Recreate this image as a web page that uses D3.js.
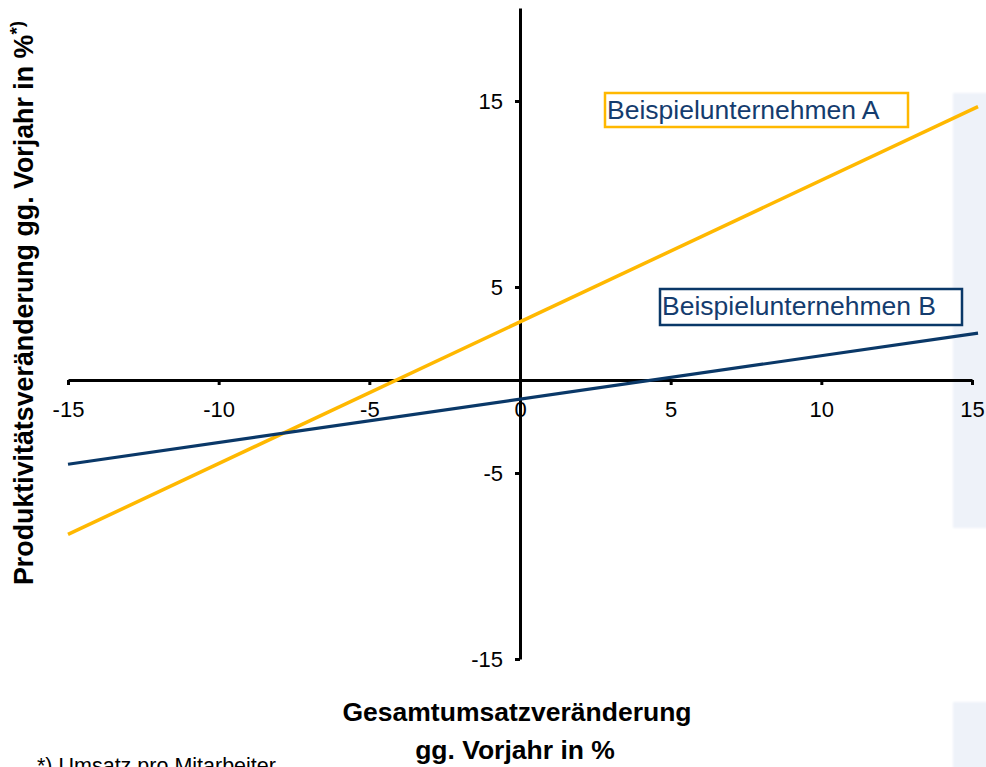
<!DOCTYPE html>
<html>
<head>
<meta charset="utf-8">
<script src="https://cdn.jsdelivr.net/npm/d3@7/dist/d3.min.js"></script>
<style>
  html, body { margin: 0; padding: 0; background: #ffffff; }
  svg { display: block; font-family: "Liberation Sans", Arial, sans-serif; }
</style>
</head>
<body>
<svg id="chart" width="986" height="767"></svg>
<script>
// Revenue change (x) vs. productivity change (y), two sample companies
const xValues = [-15, 15.2];
const seriesA = [-8.3, 14.7];   // Beispielunternehmen A
const seriesB = [-4.53, 2.52];  // Beispielunternehmen B
const seriesNames = ["Beispielunternehmen A", "Beispielunternehmen B"];
const xTicks = [-15, -10, -5, 0, 5, 10, 15];
const yTicks = [-15, -5, 5, 15];

const colorA = "#FFB800";
const colorB = "#0A3868";
const labelColor = "#143C6E";

const svg = d3.select("#chart");

const x = d3.scaleLinear().domain([-15, 15]).range([68, 972]);
const y = d3.scaleLinear().domain([-15, 20]).range([659, 8]);

// soft background panels on the right edge
const defs = svg.append("defs");
defs.append("filter").attr("id", "soft")
  .append("feGaussianBlur").attr("stdDeviation", 1.2);
svg.append("rect").attr("x", 953).attr("y", 93).attr("width", 40).attr("height", 435)
  .attr("fill", "#EEF2F9").attr("filter", "url(#soft)");
svg.append("rect").attr("x", 953).attr("y", 702).attr("width", 40).attr("height", 70)
  .attr("fill", "#EEF2F9").attr("filter", "url(#soft)");

// axes crossing at the origin; labels use a plain hyphen for negatives
const fmt = d => String(d);
const xAxis = d3.axisBottom(x).tickValues(xTicks).tickFormat(fmt)
  .tickSizeInner(5).tickSizeOuter(0).tickPadding(16);
const yAxis = d3.axisLeft(y).tickValues(yTicks).tickFormat(fmt)
  .tickSizeInner(5).tickSizeOuter(0).tickPadding(12);

function styleAxis(g) {
  g.select(".domain").attr("stroke", "#000").attr("stroke-width", 3);
  g.selectAll(".tick line").attr("stroke", "#000").attr("stroke-width", 3);
  g.selectAll(".tick text").attr("fill", "#000")
    .style("font-size", "22px").style("font-family", "'Liberation Sans', Arial, sans-serif");
}

svg.append("g").attr("transform", `translate(0,${y(0)})`).call(xAxis).call(styleAxis);
svg.append("g").attr("transform", `translate(${x(0)},0)`).call(yAxis).call(styleAxis);

// the two company lines
const line = d3.line().x(d => x(d[0])).y(d => y(d[1]));
svg.append("path").datum(xValues.map((v, i) => [v, seriesA[i]]))
  .attr("d", line).attr("fill", "none").attr("stroke", colorA).attr("stroke-width", 3.5);
svg.append("path").datum(xValues.map((v, i) => [v, seriesB[i]]))
  .attr("d", line).attr("fill", "none").attr("stroke", colorB).attr("stroke-width", 3.2);

// boxed series labels
function boxLabel(text, bx, by, bw, bh, stroke) {
  svg.append("rect").attr("x", bx).attr("y", by).attr("width", bw).attr("height", bh)
    .attr("fill", "#fff").attr("stroke", stroke).attr("stroke-width", 2.5);
  svg.append("text").attr("x", bx + 2).attr("y", by + 26)
    .attr("fill", labelColor).style("font-size", "26.5px").text(text);
}
boxLabel(seriesNames[0], 605, 93, 303, 34, colorA);
boxLabel(seriesNames[1], 660, 289, 302, 36, colorB);

// axis titles
const xt = svg.append("text").attr("text-anchor", "middle")
  .style("font-size", "26.5px").style("font-weight", "bold").attr("fill", "#000");
xt.append("tspan").attr("x", 517).attr("y", 721).text("Gesamtumsatzveränderung");
xt.append("tspan").attr("x", 515).attr("y", 759).text("gg. Vorjahr in %");

const yt = svg.append("text").attr("transform", "translate(33,585) rotate(-90)")
  .style("font-size", "26.8px").style("font-weight", "bold").attr("fill", "#000");
yt.append("tspan").text("Produktivitätsveränderung gg. Vorjahr in %");
yt.append("tspan").attr("dy", -10).style("font-size", "19px").text("*)");

// footnote
svg.append("text").attr("x", 37).attr("y", 773).attr("fill", "#000")
  .style("font-size", "21.5px").text("*) Umsatz pro Mitarbeiter");
</script>
</body>
</html>
